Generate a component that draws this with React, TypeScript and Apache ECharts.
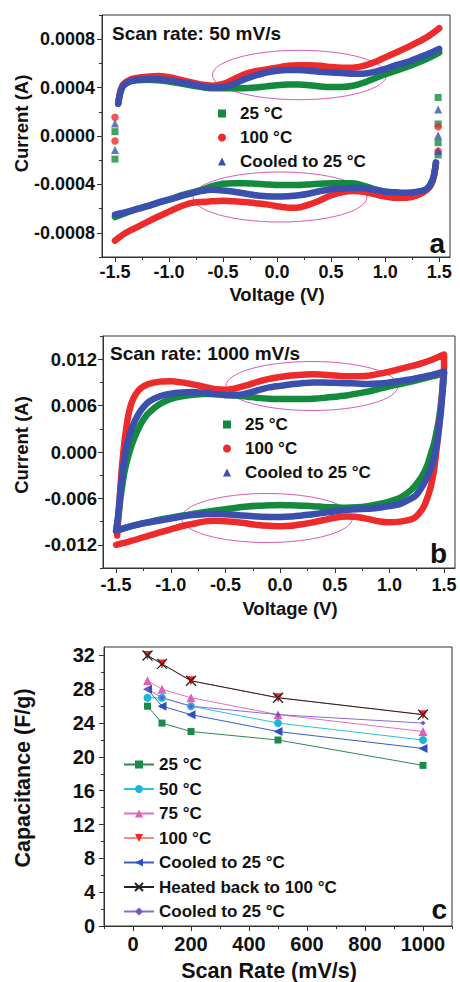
import React, { useEffect, useRef } from 'react';
import * as echarts from 'echarts';

// ---------- Panel a : 50 mV/s (current in units of 1e-4 A) ----------
const aFwdV = [-1.47, -1.45, -1.42, -1.35, -1.3, -1.2, -1.1, -1.0, -0.9, -0.8, -0.7, -0.6, -0.5, -0.4, -0.3, -0.2, -0.1, 0, 0.1, 0.2, 0.3, 0.4, 0.5, 0.6, 0.7, 0.8, 0.9, 1.0, 1.1, 1.2, 1.3, 1.4, 1.5];
const aGreenFwd = [2.68, 3.6, 4.2, 4.55, 4.6, 4.65, 4.6, 4.5, 4.35, 4.2, 4.05, 3.95, 3.95, 3.95, 3.95, 4.0, 4.1, 4.2, 4.25, 4.25, 4.2, 4.1, 4.05, 4.05, 4.15, 4.4, 4.75, 5.1, 5.4, 5.7, 6.05, 6.45, 6.9];
const aRedFwd = [2.68, 3.7, 4.3, 4.7, 4.8, 4.9, 4.95, 4.85, 4.65, 4.45, 4.25, 4.15, 4.3, 4.7, 5.1, 5.35, 5.5, 5.65, 5.8, 5.85, 5.85, 5.8, 5.7, 5.65, 5.65, 5.8, 6.1, 6.5, 6.9, 7.3, 7.75, 8.25, 8.9];
const aBlueFwd = [2.68, 3.6, 4.2, 4.55, 4.65, 4.7, 4.7, 4.6, 4.45, 4.3, 4.1, 4.0, 4.05, 4.3, 4.7, 5.0, 5.25, 5.4, 5.45, 5.45, 5.4, 5.3, 5.25, 5.2, 5.15, 5.15, 5.3, 5.55, 5.85, 6.1, 6.45, 6.8, 7.2];

const aRevV = [1.47, 1.45, 1.42, 1.38, 1.3, 1.2, 1.1, 1.0, 0.9, 0.8, 0.7, 0.6, 0.5, 0.4, 0.3, 0.2, 0.1, 0, -0.1, -0.2, -0.3, -0.4, -0.5, -0.6, -0.7, -0.8, -0.9, -1.0, -1.1, -1.2, -1.3, -1.4, -1.5];
const aGreenRev = [-2.2, -3.3, -4.0, -4.4, -4.65, -4.75, -4.7, -4.6, -4.4, -4.1, -3.9, -3.9, -3.9, -3.95, -4.0, -4.05, -4.05, -4.05, -4.0, -3.95, -3.9, -3.9, -3.95, -4.15, -4.45, -4.7, -4.95, -5.25, -5.5, -5.8, -6.05, -6.35, -6.7];
const aRedRev = [-2.3, -3.4, -4.1, -4.5, -4.9, -5.1, -5.1, -5.0, -4.8, -4.6, -4.55, -4.65, -4.9, -5.3, -5.65, -5.9, -5.92, -5.8, -5.65, -5.55, -5.45, -5.4, -5.35, -5.4, -5.45, -5.55, -5.85, -6.25, -6.65, -7.1, -7.55, -8.0, -8.65];
const aBlueRev = [-2.2, -3.3, -4.0, -4.4, -4.6, -4.7, -4.65, -4.6, -4.45, -4.3, -4.3, -4.35, -4.4, -4.55, -4.75, -4.9, -4.97, -5.0, -4.97, -4.9, -4.75, -4.6, -4.5, -4.45, -4.55, -4.75, -5.0, -5.25, -5.5, -5.8, -6.05, -6.3, -6.5];

// sparse points at the switching potentials
const aGreenTurn = [[-1.5, 0.36], [-1.5, -1.91], [1.49, 3.18], [1.49, 0.99], [1.49, -0.55], [1.49, -1.56]];
const aRedTurn = [[-1.5, 1.54], [-1.5, -0.41], [1.49, 0.77], [1.49, -1.25]];
const aBlueTurn = [[-1.5, 1.04], [-1.5, -1.15], [1.49, 2.19], [1.49, 0.05], [1.49, -1.23]];

// ---------- Panel b : 1000 mV/s (current in mA) ----------
const bGreenLoop = [[-1.5, -10.2], [-1.48, -8.5], [-1.46, -6.0], [-1.44, -4.0], [-1.42, -2.3], [-1.39, -0.6], [-1.35, 1.2], [-1.3, 2.9], [-1.25, 4.2], [-1.2, 5.1], [-1.1, 6.2], [-1.0, 6.85], [-0.9, 7.2], [-0.8, 7.4], [-0.7, 7.5], [-0.6, 7.5], [-0.5, 7.4], [-0.4, 7.3], [-0.3, 7.15], [-0.2, 7.0], [-0.1, 6.9], [0, 6.85], [0.1, 6.85], [0.2, 6.85], [0.3, 6.9], [0.4, 7.0], [0.5, 7.15], [0.6, 7.3], [0.7, 7.55], [0.8, 7.8], [0.9, 8.15], [1.0, 8.5], [1.1, 8.8], [1.2, 9.1], [1.3, 9.45], [1.4, 9.8], [1.5, 10.2],
  [1.49, 8.5], [1.47, 6.0], [1.45, 4.0], [1.43, 2.5], [1.41, 1.2], [1.38, -0.2], [1.35, -1.6], [1.3, -3.1], [1.25, -4.1], [1.2, -4.9], [1.1, -5.9], [1.0, -6.4], [0.9, -6.75], [0.8, -7.0], [0.7, -7.15], [0.6, -7.2], [0.5, -7.15], [0.4, -7.1], [0.3, -7.0], [0.2, -6.95], [0.1, -6.9], [0, -6.85], [-0.1, -6.9], [-0.2, -6.95], [-0.3, -7.05], [-0.4, -7.2], [-0.5, -7.4], [-0.6, -7.6], [-0.7, -7.8], [-0.8, -8.0], [-0.9, -8.25], [-1.0, -8.5], [-1.1, -8.75], [-1.2, -9.05], [-1.3, -9.35], [-1.4, -9.75], [-1.5, -10.2]];
const bRedLoop = [[-1.49, -10.8], [-1.48, -8.5], [-1.465, -5.5], [-1.45, -2.5], [-1.43, 0.5], [-1.41, 2.8], [-1.39, 4.6], [-1.36, 6.3], [-1.32, 7.5], [-1.27, 8.3], [-1.2, 8.8], [-1.1, 9.1], [-1.0, 9.15], [-0.9, 9.0], [-0.8, 8.75], [-0.7, 8.45], [-0.6, 8.15], [-0.5, 8.05], [-0.4, 8.25], [-0.3, 8.65], [-0.2, 9.1], [-0.1, 9.45], [0, 9.7], [0.1, 9.9], [0.2, 10.0], [0.3, 10.05], [0.4, 10.0], [0.5, 9.9], [0.6, 9.8], [0.7, 9.8], [0.8, 9.85], [0.9, 10.1], [1.0, 10.4], [1.1, 10.75], [1.2, 11.1], [1.3, 11.5], [1.4, 12.0], [1.5, 12.6],
  [1.5, 11.1], [1.49, 9.5], [1.48, 7.2], [1.465, 4.8], [1.45, 2.5], [1.43, 0.2], [1.41, -2.2], [1.38, -4.4], [1.35, -5.8], [1.32, -6.9], [1.28, -7.8], [1.24, -8.4], [1.2, -8.7], [1.1, -9.0], [1.0, -9.1], [0.9, -8.95], [0.8, -8.65], [0.7, -8.4], [0.6, -8.35], [0.5, -8.5], [0.4, -8.8], [0.3, -9.1], [0.2, -9.35], [0.1, -9.55], [0, -9.6], [-0.1, -9.55], [-0.2, -9.45], [-0.3, -9.25], [-0.4, -9.05], [-0.5, -8.95], [-0.6, -8.9], [-0.7, -9.0], [-0.8, -9.3], [-0.9, -9.6], [-1.0, -10.0], [-1.1, -10.4], [-1.2, -10.8], [-1.3, -11.25], [-1.4, -11.65], [-1.5, -12.0]];
const bBlueLoop = [[-1.5, -10.2], [-1.48, -8.0], [-1.46, -5.0], [-1.44, -2.5], [-1.42, -0.5], [-1.39, 1.5], [-1.35, 3.3], [-1.3, 4.8], [-1.25, 5.8], [-1.2, 6.5], [-1.1, 7.2], [-1.0, 7.55], [-0.9, 7.7], [-0.8, 7.75], [-0.7, 7.65], [-0.6, 7.5], [-0.5, 7.35], [-0.4, 7.35], [-0.3, 7.6], [-0.2, 8.0], [-0.1, 8.35], [0, 8.55], [0.1, 8.75], [0.2, 8.9], [0.3, 9.0], [0.4, 9.0], [0.5, 8.95], [0.6, 8.9], [0.7, 8.85], [0.8, 8.8], [0.9, 8.85], [1.0, 9.0], [1.1, 9.2], [1.2, 9.4], [1.3, 9.7], [1.4, 10.0], [1.5, 10.4],
  [1.49, 8.5], [1.47, 5.1], [1.45, 2.8], [1.43, 0.8], [1.4, -1.2], [1.36, -2.8], [1.33, -3.7], [1.28, -4.9], [1.24, -5.65], [1.2, -6.0], [1.1, -6.7], [1.0, -7.0], [0.9, -7.2], [0.8, -7.35], [0.7, -7.4], [0.6, -7.5], [0.5, -7.65], [0.4, -7.85], [0.3, -8.05], [0.2, -8.2], [0.1, -8.35], [0, -8.4], [-0.1, -8.4], [-0.2, -8.35], [-0.3, -8.25], [-0.4, -8.15], [-0.5, -8.05], [-0.6, -8.0], [-0.7, -8.05], [-0.8, -8.15], [-0.9, -8.35], [-1.0, -8.6], [-1.1, -8.85], [-1.2, -9.1], [-1.3, -9.4], [-1.4, -9.75], [-1.5, -10.2]];

// ---------- Panel c : capacitance (F/g) vs scan rate (mV/s) ----------
const scanRates = [50, 100, 200, 500, 1000];
const c25 = [26, 24, 23, 22, 19];
const c50 = [27, 27, 26, 24, 22];
const c75 = [29, 28, 27, 25, 23];
const c100 = [32, 31, 29, 27, 25];
const cCooled1 = [28, 26, 25, 23, 21];
const cHeated = [32, 31, 29, 27, 25];
const cCooled2 = [28, 27, 26, 25, 24];

// tick positions
const cvVoltTicks = [-1.5, -1.0, -0.5, 0, 0.5, 1.0, 1.5];
const cvVoltMinor = [-1.25, -0.75, -0.25, 0.25, 0.75, 1.25];
const aCurTicks = [-8, -4, 0, 4, 8];
const aCurMinor = [-10, -6, -2, 2, 6, 10];
const bCurTicks = [-12, -6, 0, 6, 12];
const bCurMinor = [-15, -9, -3, 3, 9, 15];
const cRateTicks = [0, 200, 400, 600, 800, 1000];
const cRateMinor = [-100, 100, 300, 500, 700, 900, 1100];
const cCapTicks = [0, 4, 8, 12, 16, 20, 24, 28, 32];
const cCapMinor = [2, 6, 10, 14, 18, 22, 26, 30];

const legendNames: Record<string, string> = {
  a25: '25 °C', a100: '100 °C', aCool: 'Cooled to 25 °C',
  b25: '25 °C', b100: '100 °C', bCool: 'Cooled to 25 °C',
  c25: '25 °C', c50: '50 °C', c75: '75 °C', c100: '100 °C',
  cCool1: 'Cooled to 25 °C', cHeat: 'Heated back to 100 °C', cCool2: 'Cooled to 25 °C',
};

const FONT = '"Liberation Sans", Arial, Helvetica, sans-serif';
const INK = '#111111';
const AXIS = '#333333';
const GREEN = '#138a3e';
const RED = '#ee2b2b';
const BLUE = '#3a4fae';
const ELLIPSE = '#d65bb8';

const zip = (v: number[], c: number[]) => v.map((x, i) => [x, c[i]]);

function axes(kind: 'x' | 'y', grid: number, min: number, max: number, majors: number[], minors: number[],
  fmt: (v: number) => string, fontSize: number, margin: number) {
  const pos = kind === 'x' ? 'bottom' : 'left';
  return [
    {
      type: 'value', gridIndex: grid, min, max, position: pos,
      axisLine: { show: true, onZero: false, lineStyle: { color: AXIS, width: 1 } },
      axisTick: { show: true, customValues: majors, length: 5, lineStyle: { color: AXIS, width: 1 } },
      axisLabel: { show: true, customValues: majors, formatter: fmt, margin, fontFamily: FONT, fontWeight: 'bold', fontSize, color: INK },
      splitLine: { show: false },
    },
    {
      type: 'value', gridIndex: grid, min, max, position: pos,
      axisLine: { show: false, onZero: false },
      axisTick: { show: true, customValues: minors, length: 3, lineStyle: { color: AXIS, width: 1 } },
      axisLabel: { show: false },
      splitLine: { show: false },
    },
  ];
}

function cvLine(name: string, color: string, data: number[][], idx: number, z: number) {
  return {
    type: 'line', name, data, xAxisIndex: idx, yAxisIndex: idx, symbol: 'none', showSymbol: false,
    smooth: 0.25, z, silent: true,
    lineStyle: { color, width: 6.5, cap: 'round', join: 'round' },
    itemStyle: { color },
  };
}

function cvTurn(name: string, color: string, symbol: string, size: number, data: number[][], z: number) {
  return {
    type: 'scatter', name, data, xAxisIndex: 0, yAxisIndex: 0, symbol, symbolSize: size, z, silent: true,
    itemStyle: { color },
  };
}

function capLine(name: string, line: string, mark: string, symbol: string, size: number, vals: number[], extra: any = {}) {
  return {
    type: 'line', name, data: zip(scanRates, vals), xAxisIndex: 4, yAxisIndex: 4,
    symbol, symbolSize: size, showSymbol: true, silent: true,
    lineStyle: { color: line, width: 1 },
    itemStyle: { color: mark },
    ...extra,
  };
}

const txt = (text: string, x: number, y: number, size: number, align: string = 'left', rotation = 0) => ({
  type: 'text', x, y, rotation, silent: true,
  style: { text, fontFamily: FONT, fontWeight: 'bold', fontSize: size, fill: INK, align, verticalAlign: 'middle' },
});

const ell = (cx: number, cy: number, rx: number, ry: number) => ({
  type: 'ellipse', silent: true, shape: { cx, cy, rx, ry },
  style: { fill: 'none', stroke: ELLIPSE, lineWidth: 1 },
});

export default function App() {
  const ref = useRef<HTMLDivElement>(null);
  useEffect(() => {
    if (!ref.current) return;
    const chart = echarts.init(ref.current, null, { renderer: 'svg' });
    const legendText = { fontFamily: FONT, fontWeight: 'bold', fontSize: 17, color: INK };
    const option: any = {
      animation: false,
      backgroundColor: '#ffffff',
      grid: [
        { left: 102, top: 15, width: 348, height: 242, show: true, borderColor: AXIS, borderWidth: 1, backgroundColor: 'transparent' },
        { left: 103, top: 336, width: 352, height: 232, show: true, borderColor: AXIS, borderWidth: 1, backgroundColor: 'transparent' },
        { left: 104, top: 647, width: 348, height: 279, show: true, borderColor: AXIS, borderWidth: 1, backgroundColor: 'transparent' },
      ],
      xAxis: [
        ...axes('x', 0, -1.62, 1.6, cvVoltTicks, cvVoltMinor, (v) => v.toFixed(1), 18, 6),
        ...axes('x', 1, -1.62, 1.6, cvVoltTicks, cvVoltMinor, (v) => v.toFixed(1), 18, 8),
        ...axes('x', 2, -100, 1100, cRateTicks, cRateMinor, (v) => String(v), 20, 8),
      ],
      yAxis: [
        ...axes('y', 0, -10, 10, aCurTicks, aCurMinor, (v) => (v / 10000).toFixed(4), 18, 7),
        ...axes('y', 1, -15, 15, bCurTicks, bCurMinor, (v) => (v / 1000).toFixed(3), 18.5, 6),
        ...axes('y', 2, 0, 33, cCapTicks, cCapMinor, (v) => String(v), 20, 9),
      ],
      legend: [
        {
          orient: 'vertical', left: 213, top: 100, itemWidth: 8, itemHeight: 8, itemGap: 7, selectedMode: false,
          data: [{ name: 'a25', icon: 'rect' }, { name: 'a100', icon: 'circle' }, { name: 'aCool', icon: 'triangle' }],
          formatter: (n: string) => legendNames[n], textStyle: { ...legendText, padding: [0, 0, 0, 9] },
        },
        {
          orient: 'vertical', left: 218, top: 411, itemWidth: 8, itemHeight: 8, itemGap: 7, selectedMode: false,
          data: [{ name: 'b25', icon: 'rect' }, { name: 'b100', icon: 'circle' }, { name: 'bCool', icon: 'triangle' }],
          formatter: (n: string) => legendNames[n], textStyle: { ...legendText, padding: [0, 0, 0, 9] },
        },
        {
          orient: 'vertical', left: 118, top: 751, itemWidth: 30, itemHeight: 10, itemGap: 7.5, selectedMode: false,
          data: ['c25', 'c50', 'c75', 'c100', 'cCool1', 'cHeat', 'cCool2'],
          formatter: (n: string) => legendNames[n], textStyle: legendText,
        },
      ],
      series: [
        // panel a
        cvLine('a25', GREEN, zip(aFwdV, aGreenFwd), 0, 2),
        cvLine('a25', GREEN, zip(aRevV, aGreenRev), 0, 2),
        cvLine('a100', RED, zip(aFwdV, aRedFwd), 0, 3),
        cvLine('a100', RED, zip(aRevV, aRedRev), 0, 3),
        cvLine('aCool', BLUE, zip(aFwdV, aBlueFwd), 0, 4),
        cvLine('aCool', BLUE, zip(aRevV, aBlueRev), 0, 4),
        cvTurn('a25', GREEN, 'rect', 7, aGreenTurn, 5),
        cvTurn('a100', RED, 'circle', 7.5, aRedTurn, 5),
        cvTurn('aCool', BLUE, 'triangle', 8, aBlueTurn, 5),
        // panel b
        cvLine('b25', GREEN, bGreenLoop, 2, 2),
        cvLine('b100', RED, bRedLoop, 2, 3),
        cvLine('bCool', BLUE, bBlueLoop, 2, 4),
        // panel c
        capLine('c25', '#2a8a50', '#1b8a48', 'rect', 7, c25),
        capLine('c50', '#2cc0dc', '#1cb6d8', 'circle', 8, c50),
        capLine('c75', '#e070c0', '#e060b8', 'triangle', 9, c75),
        capLine('c100', '#f58a80', '#ff2020', 'triangle', 9, c100, { symbolRotate: 180 }),
        capLine('cCool1', '#3a5cc8', '#2f4fc0', 'triangle', 9, cCooled1, { symbolRotate: 90 }),
        capLine('cHeat', '#222222', 'transparent', 'path://M0,0L10,10M10,0L0,10', 10, cHeated,
          { itemStyle: { color: 'transparent', borderColor: '#222222', borderWidth: 1.3 } }),
        capLine('cCool2', '#8a6ad8', '#7a52c8', 'diamond', 5, cCooled2),
      ],
      graphic: [
        txt('Scan rate: 50 mV/s', 112, 33, 19),
        txt('a', 445, 243, 28, 'right'),
        txt('Scan rate: 1000 mV/s', 110, 353, 19),
        txt('b', 447, 553, 28, 'right'),
        txt('c', 447, 909, 28, 'right'),
        // axis titles
        txt('Current (A)', 21.5, 123.5, 18.5, 'center', Math.PI / 2),
        txt('Voltage (V)', 277, 294, 18.5, 'center'),
        txt('Current (A)', 21.5, 445, 18.5, 'center', Math.PI / 2),
        txt('Voltage (V)', 290, 608, 18.5, 'center'),
        txt('Capacitance (F/g)', 23, 778, 21.5, 'center', Math.PI / 2),
        txt('Scan Rate (mV/s)', 269, 971, 21.5, 'center'),
        // highlight ellipses
        ell(299.5, 75, 87, 24.7),
        ell(280, 197, 87, 25),
        ell(312, 386, 86, 24.5),
        ell(267, 518, 85.5, 24.5),
      ],
    };
    chart.setOption(option);
    return () => chart.dispose();
  }, []);
  return (
    <div
      ref={ref}
      style={{ position: 'absolute', left: 0, top: 0, width: 460, height: 982, background: '#ffffff' }}
    />
  );
}
